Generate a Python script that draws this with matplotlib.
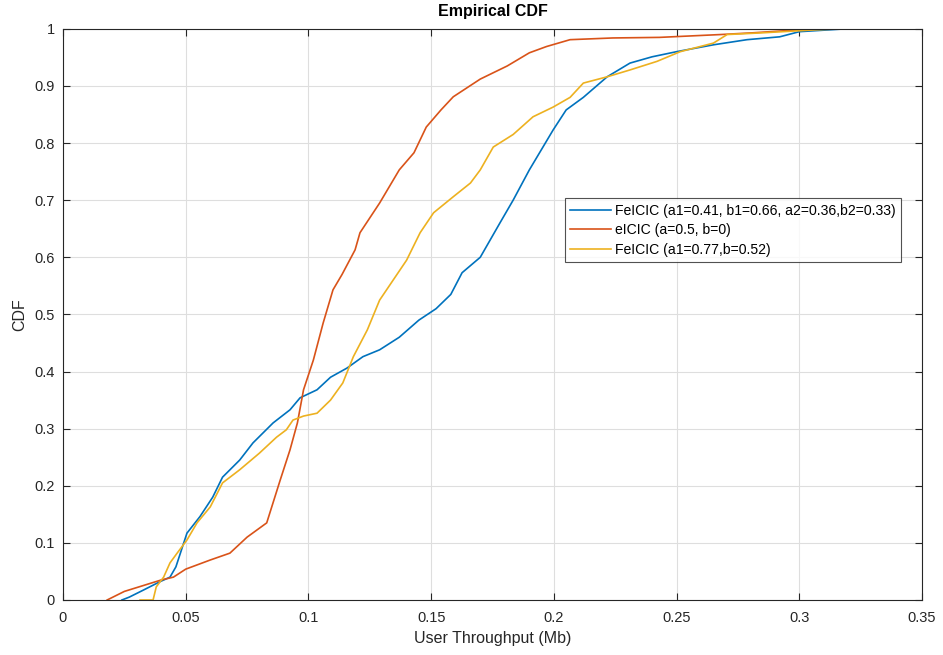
import matplotlib
matplotlib.use("Agg")
import matplotlib.pyplot as plt

plt.rcParams["font.family"] = ["Liberation Sans", "DejaVu Sans"]

# CDF knots (throughput in Mb, cumulative probability) for each scheme
fe1_x = [0.024, 0.027, 0.0326, 0.0395, 0.0436, 0.046, 0.0505, 0.0558, 0.061, 0.065,
         0.072, 0.0774, 0.0856, 0.0925, 0.0966, 0.1035, 0.109, 0.1157, 0.1222, 0.129,
         0.137, 0.145, 0.152, 0.158, 0.1626, 0.170, 0.178, 0.1834, 0.190, 0.1997,
         0.205, 0.212, 0.2217, 0.231, 0.240, 0.250, 0.265, 0.2787, 0.292, 0.300,
         0.319, 0.333]
fe1_y = [0.0, 0.005, 0.017, 0.032, 0.04, 0.058, 0.117, 0.146, 0.18, 0.215,
         0.245, 0.275, 0.31, 0.333, 0.354, 0.368, 0.39, 0.406, 0.426, 0.438,
         0.46, 0.49, 0.51, 0.535, 0.573, 0.60, 0.66, 0.70, 0.753, 0.823,
         0.858, 0.88, 0.916, 0.94, 0.951, 0.96, 0.972, 0.981, 0.986, 0.995,
         1.0, 1.0]

eic_x = [0.018, 0.025, 0.04, 0.045, 0.05, 0.06, 0.068, 0.075, 0.083, 0.0885,
         0.0925, 0.0955, 0.098, 0.102, 0.106, 0.110, 0.1137, 0.119, 0.121, 0.129,
         0.137, 0.143, 0.148, 0.154, 0.159, 0.170, 0.181, 0.190, 0.197, 0.2066,
         0.224, 0.243, 0.268, 0.281, 0.299, 0.31]
eic_y = [0.0, 0.015, 0.035, 0.04, 0.054, 0.07, 0.082, 0.11, 0.135, 0.21,
         0.263, 0.31, 0.368, 0.42, 0.485, 0.543, 0.57, 0.613, 0.643, 0.695,
         0.753, 0.783, 0.828, 0.858, 0.881, 0.912, 0.935, 0.958, 0.969, 0.981,
         0.984, 0.985, 0.99, 0.993, 0.998, 1.0]

fe2_x = [0.0314, 0.0367, 0.038, 0.041, 0.0436, 0.0465, 0.0505, 0.0546, 0.06, 0.065,
         0.072, 0.080, 0.087, 0.091, 0.0937, 0.098, 0.1035, 0.109, 0.114, 0.1183,
         0.124, 0.129, 0.1345, 0.140, 0.1455, 0.151, 0.159, 0.166, 0.170, 0.1753,
         0.1834, 0.1915, 0.1997, 0.2066, 0.212, 0.2217, 0.231, 0.242, 0.2515, 0.265,
         0.2706, 0.285, 0.3056, 0.3166]
fe2_y = [0.0, 0.0, 0.023, 0.04, 0.065, 0.082, 0.105, 0.135, 0.163, 0.205,
         0.228, 0.257, 0.285, 0.298, 0.315, 0.322, 0.327, 0.35, 0.38, 0.426,
         0.473, 0.525, 0.56, 0.595, 0.643, 0.678, 0.706, 0.73, 0.753, 0.793,
         0.815, 0.846, 0.863, 0.88, 0.905, 0.916, 0.928, 0.943, 0.96, 0.975,
         0.99, 0.993, 0.998, 1.0]

labels = ["FeICIC (a1=0.41, b1=0.66, a2=0.36,b2=0.33)",
          "eICIC (a=0.5, b=0)",
          "FeICIC (a1=0.77,b=0.52)"]
colors = ["#0072BD", "#D95319", "#EDB120"]

fig = plt.figure(figsize=(9.43, 6.55), dpi=100)
ax = fig.add_axes([0.0668, 0.084, 0.911, 0.872])

for (xs, ys), lab, c in zip([(fe1_x, fe1_y), (eic_x, eic_y), (fe2_x, fe2_y)], labels, colors):
    ax.plot(xs, ys, color=c, lw=1.2, label=lab)

ax.set_xlim(0, 0.35)
ax.set_ylim(0, 1)
ax.set_xticks([0, 0.05, 0.1, 0.15, 0.2, 0.25, 0.3, 0.35])
ax.set_xticklabels(["0", "0.05", "0.1", "0.15", "0.2", "0.25", "0.3", "0.35"])
ax.set_yticks([i / 10 for i in range(11)])
ax.set_yticklabels(["0", "0.1", "0.2", "0.3", "0.4", "0.5", "0.6", "0.7", "0.8", "0.9", "1"])
ax.grid(True, color="#dedede", lw=0.8)
ax.set_axisbelow(True)

for s in ax.spines.values():
    s.set_color("#262626")
    s.set_linewidth(0.8)
ax.tick_params(direction="in", length=5, width=0.8, colors="#262626",
               top=True, right=True, labelsize=10.5)
ax.tick_params(axis="x", pad=8)
ax.tick_params(axis="y", pad=6)

ax.set_xlabel("User Throughput (Mb)", fontsize=11.5, color="#262626", labelpad=4)
ax.set_ylabel("CDF", fontsize=11.5, color="#262626", labelpad=5)
ax.set_title("Empirical CDF", fontsize=11.5, fontweight="bold", pad=9)

leg = ax.legend(loc="upper left", bbox_to_anchor=(0.584, 0.703), fontsize=10.1,
                frameon=True, fancybox=False, handlelength=2.9, handletextpad=0.3,
                borderpad=0.4, labelspacing=0.38, borderaxespad=0)
leg.get_frame().set_edgecolor("#262626")
leg.get_frame().set_linewidth(0.8)

fig.savefig("out.png", dpi=100)
